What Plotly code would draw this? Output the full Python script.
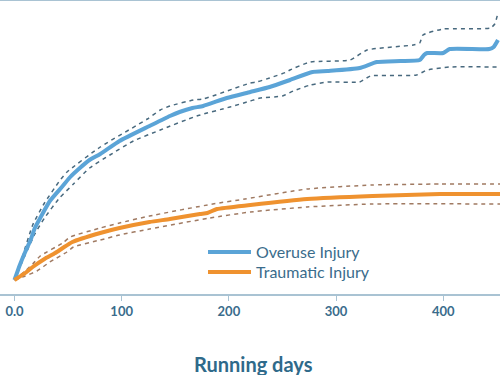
import plotly.graph_objects as go

# Overuse injury (cumulative incidence)
over_days = [0, 5, 10, 15, 19, 24, 33, 45, 52, 61, 70, 80, 98, 126, 145, 154, 166, 176, 198, 220,
             238, 257, 278, 292, 322, 338, 360, 378, 382, 385, 400, 406, 443, 447, 451]
over_val = [0, 0.030, 0.056, 0.080, 0.104, 0.124, 0.158, 0.188, 0.206, 0.224, 0.240, 0.252, 0.278,
            0.308, 0.328, 0.336, 0.344, 0.348, 0.364, 0.376, 0.386, 0.400, 0.416, 0.418, 0.424,
            0.436, 0.438, 0.440, 0.450, 0.454, 0.454, 0.462, 0.462, 0.466, 0.480]

over_up_days = [0, 7, 17, 28, 42, 49, 80, 124, 136, 145, 167, 176, 220, 226, 238, 254, 257, 276,
                313, 329, 372, 378, 381, 400, 444, 448, 451]
over_up_val = [0, 0.044, 0.110, 0.154, 0.198, 0.216, 0.266, 0.322, 0.340, 0.348, 0.360, 0.362,
               0.394, 0.396, 0.404, 0.416, 0.420, 0.436, 0.440, 0.460, 0.470, 0.474, 0.490, 0.502,
               0.504, 0.512, 0.534]

over_lo_days = [0, 10, 19, 28, 42, 55, 70, 89, 111, 136, 170, 201, 220, 229, 250, 260, 276, 292,
                322, 332, 375, 385, 406, 451]
over_lo_val = [0, 0.050, 0.092, 0.124, 0.164, 0.192, 0.224, 0.250, 0.278, 0.300, 0.328, 0.346,
               0.358, 0.364, 0.368, 0.378, 0.390, 0.396, 0.396, 0.408, 0.410, 0.420, 0.426, 0.426]

# Traumatic injury
trau_days = [0, 10, 17, 28, 38, 45, 54, 80, 98, 126, 145, 173, 180, 189, 220, 273, 334, 397, 453]
trau_val = [0, 0.014, 0.026, 0.042, 0.054, 0.064, 0.076, 0.094, 0.104, 0.116, 0.122, 0.132, 0.134,
            0.142, 0.150, 0.162, 0.168, 0.172, 0.172]

trau_up_days = [0, 10, 17, 24, 45, 52, 80, 98, 126, 185, 215, 273, 334, 397, 453]
trau_up_val = [0, 0.018, 0.032, 0.048, 0.074, 0.086, 0.104, 0.114, 0.128, 0.152, 0.162, 0.182,
               0.190, 0.192, 0.192]

trau_lo_days = [0, 10, 21, 33, 49, 55, 80, 98, 126, 182, 220, 273, 334, 453]
trau_lo_val = [0, 0.008, 0.018, 0.036, 0.056, 0.066, 0.080, 0.090, 0.102, 0.124, 0.136, 0.146,
               0.152, 0.152]

tick_vals = [0, 100, 200, 300, 400]
tick_text = ["0.0", "100", "200", "300", "400"]

BLUE = "#5ba4d7"
ORANGE = "#ef922f"
BLUE_CI = "#48697e"
ORANGE_CI = "#a07a62"
AXIS = "#a9c3d3"
TEXT = "#3a6c8c"

fig = go.Figure()
for xs, ys, col in [(over_up_days, over_up_val, BLUE_CI), (over_lo_days, over_lo_val, BLUE_CI),
                    (trau_up_days, trau_up_val, ORANGE_CI), (trau_lo_days, trau_lo_val, ORANGE_CI)]:
    fig.add_trace(go.Scatter(x=xs, y=ys, mode="lines", showlegend=False, hoverinfo="skip",
                             line=dict(color=col, width=1.5, dash="4px,4px", shape="spline",
                                       smoothing=0.5)))

fig.add_trace(go.Scatter(x=over_days, y=over_val, mode="lines", name="Overuse Injury",
                         legend="legend",
                         line=dict(color=BLUE, width=4, shape="spline", smoothing=0.5)))
fig.add_trace(go.Scatter(x=trau_days, y=trau_val, mode="lines", name="Traumatic Injury",
                         legend="legend2",
                         line=dict(color=ORANGE, width=4, shape="spline", smoothing=0.5)))

leg_common = dict(xanchor="left", yanchor="middle", bgcolor="rgba(0,0,0,0)",
                  font=dict(size=16, color=TEXT), itemwidth=43, borderwidth=0)

fig.update_layout(
    width=500, height=375,
    margin=dict(l=0, r=0, t=1, b=81),
    paper_bgcolor="white", plot_bgcolor="white",
    font=dict(family="Lato, Open Sans, sans-serif", color=TEXT),
    xaxis=dict(range=[-13.5, 452.9], tickvals=tick_vals, ticktext=tick_text,
               showgrid=False, zeroline=False, showline=True, linecolor=AXIS, linewidth=1.5,
               mirror=True, ticks="outside", ticklen=5, tickcolor=AXIS, tickwidth=1,
               tickfont=dict(size=13, color=TEXT, family="Lato, sans-serif", weight="bold")),
    yaxis=dict(range=[-0.028, 0.558], visible=False),
    legend=dict(x=0.406, y=0.143, **leg_common),
    legend2=dict(x=0.406, y=0.075, **leg_common),
    annotations=[dict(text="<b>Running days</b>", xref="paper", yref="paper", x=0.506,
                      y=-0.239, xanchor="center", yanchor="middle", showarrow=False,
                      font=dict(size=20, color="#2f6a8a"))],
)

fig.write_html("out.html", config={"displayModeBar": False},
               post_script="document.body.style.margin='0';")
